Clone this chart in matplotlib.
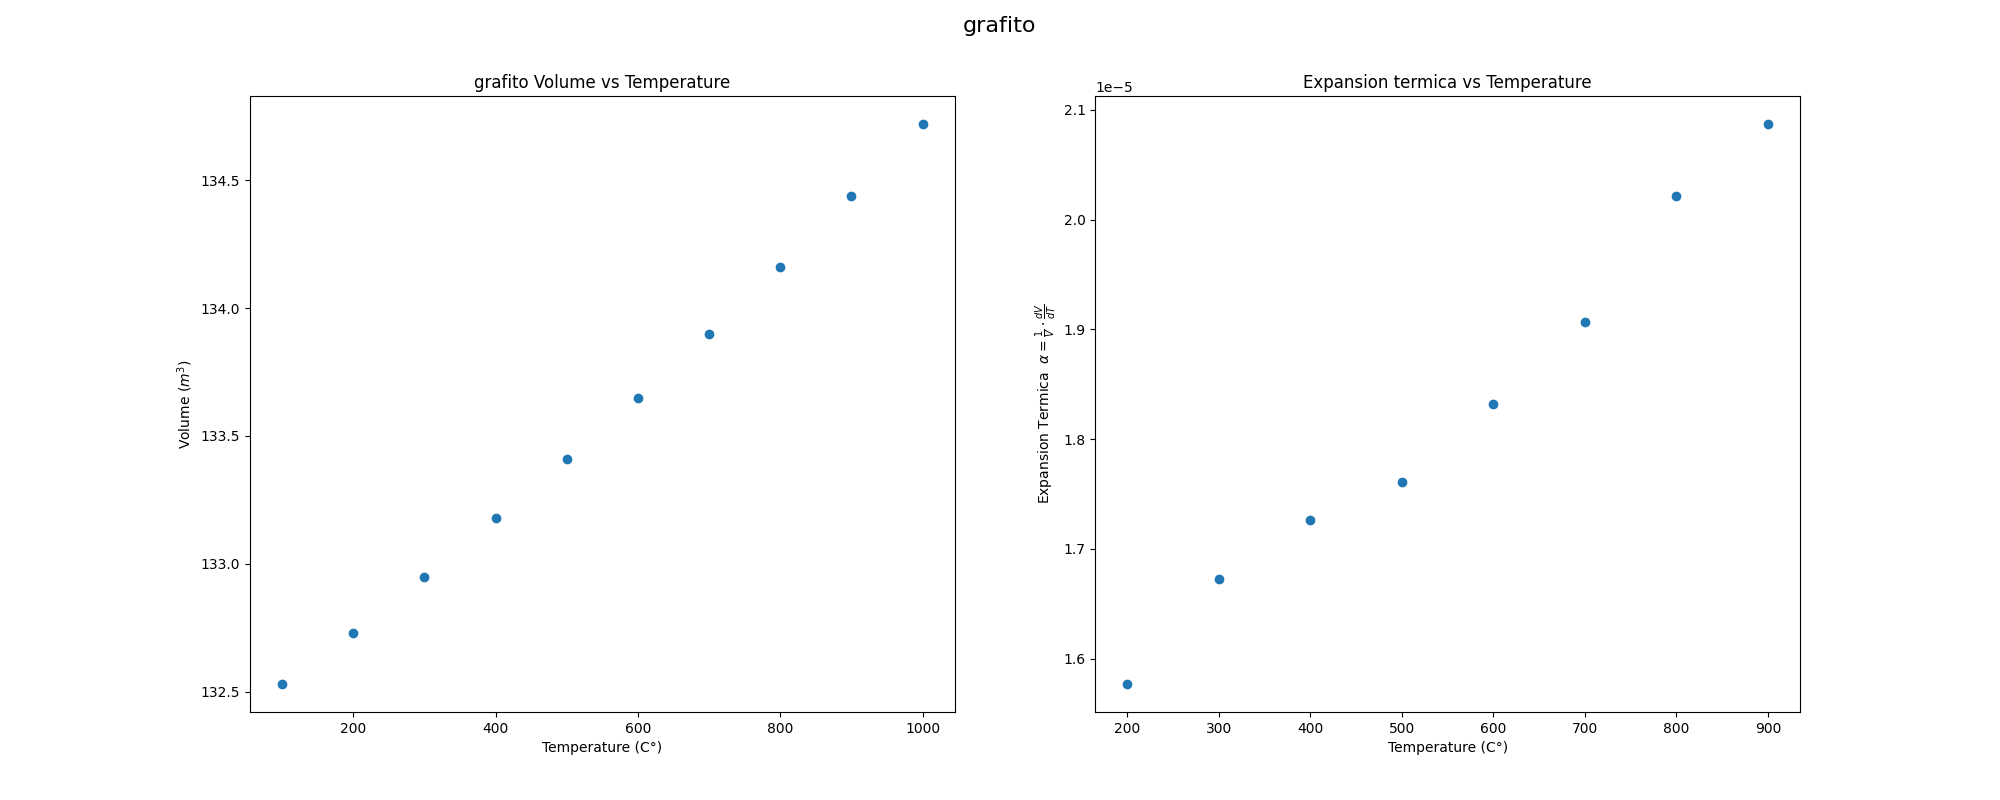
import matplotlib
matplotlib.use("Agg")
import matplotlib.pyplot as plt

temps_v = [100, 200, 300, 400, 500, 600, 700, 800, 900, 1000]
volume = [132.53, 132.73, 132.95, 133.18, 133.41, 133.65, 133.90, 134.16, 134.44, 134.72]
temps_a = [200, 300, 400, 500, 600, 700, 800, 900]
alpha = [1.577e-5, 1.673e-5, 1.726e-5, 1.761e-5, 1.832e-5, 1.907e-5, 2.021e-5, 2.087e-5]

fig, (ax1, ax2) = plt.subplots(1, 2, figsize=(20, 8), dpi=100)
fig.suptitle("grafito", fontsize=16)
ax1.scatter(temps_v, volume)
ax1.set_title("grafito Volume vs Temperature")
ax1.set_xlabel("Temperature (C°)")
ax1.set_ylabel("Volume ($m^3$)")
ax2.scatter(temps_a, alpha)
ax2.set_title("Expansion termica vs Temperature")
ax2.set_xlabel("Temperature (C°)")
ax2.set_ylabel(r"Expansion Termica  $\alpha = \frac{1}{V} \cdot \frac{dV}{dT}$")
fig.savefig("out.png")
